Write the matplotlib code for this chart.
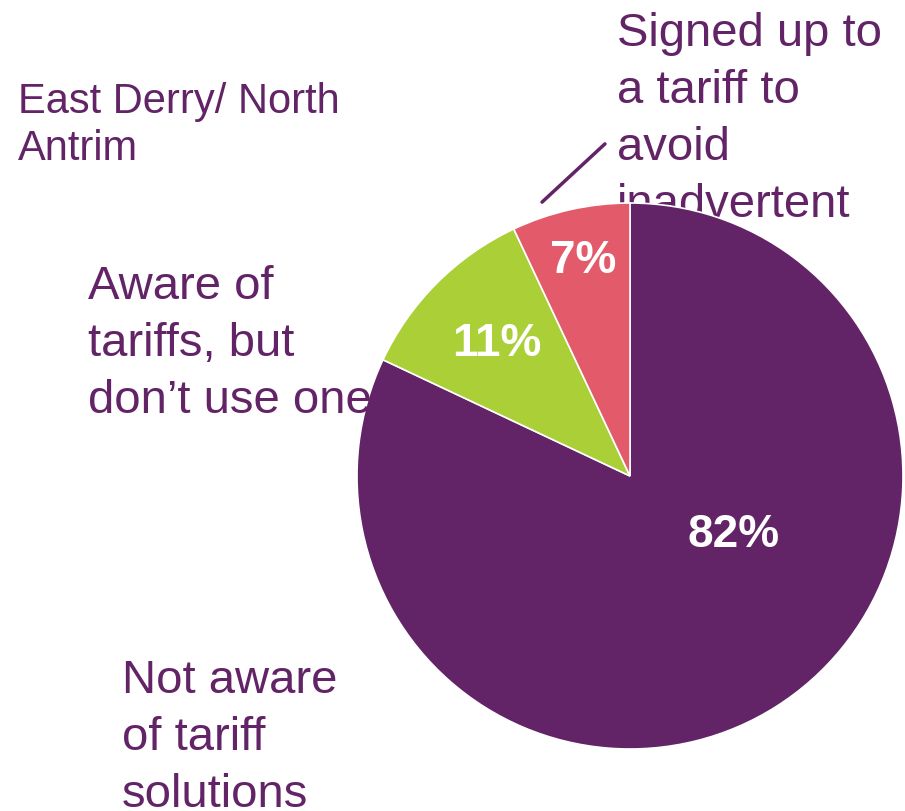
import matplotlib.pyplot as plt

# data
categories = [
    "Not aware\nof tariff\nsolutions",
    "Aware of\ntariffs, but\ndon\u2019t use one",
    "Signed up to\na tariff to\navoid\ninadvertent\nrun out\ncredit",
]
shares = [82, 11, 7]
colors = ["#622466", "#AACF37", "#E35A6A"]
title = "East Derry/ North\nAntrim"

TEXT_PURPLE = "#622466"
W, H = 905, 812

plt.rcParams["font.family"] = ["Liberation Sans", "DejaVu Sans"]

fig = plt.figure(figsize=(W / 100, H / 100), dpi=100)
ax = fig.add_axes([0, 0, 1, 1])

# pie, clockwise from 12 o'clock
cx, cy, r = 630, H - 477, 273
wedges, _ = ax.pie(
    shares,
    colors=colors,
    startangle=90,
    counterclock=False,
    center=(cx, cy),
    radius=r,
    frame=True,
    wedgeprops=dict(edgecolor="white", linewidth=1.2),
)
for w in wedges:
    w.set_zorder(2)
ax.set_xlim(0, W)
ax.set_ylim(0, H)
ax.set_aspect("equal")
ax.axis("off")

# percentage labels
pct_pos = [(734, H - 535), (497, H - 344), (583, H - 261)]
for val, (x, y) in zip(shares, pct_pos):
    ax.text(x, y, f"{val}%", color="white", fontsize=33, fontweight="bold",
            ha="center", va="center", zorder=3)

# category labels (y = baseline of the last line)
label_pos = [(122, H - 807), (88, H - 413), (617, H - 331)]
for i, (lab, (x, y)) in enumerate(zip(categories, label_pos)):
    ax.text(x, y, lab, color=TEXT_PURPLE, fontsize=34, ha="left",
            va="baseline", linespacing=1.38, zorder=1 if i == 2 else 3)

# leader line for the small slice
ax.annotate("", xy=(540, H - 205), xytext=(607, H - 143),
            arrowprops=dict(arrowstyle="-", color=TEXT_PURPLE, lw=2.5),
            zorder=3)

ax.text(18, H - 160, title, color=TEXT_PURPLE, fontsize=30, ha="left",
        va="baseline", linespacing=1.23)

fig.savefig("out.png", dpi=100)
